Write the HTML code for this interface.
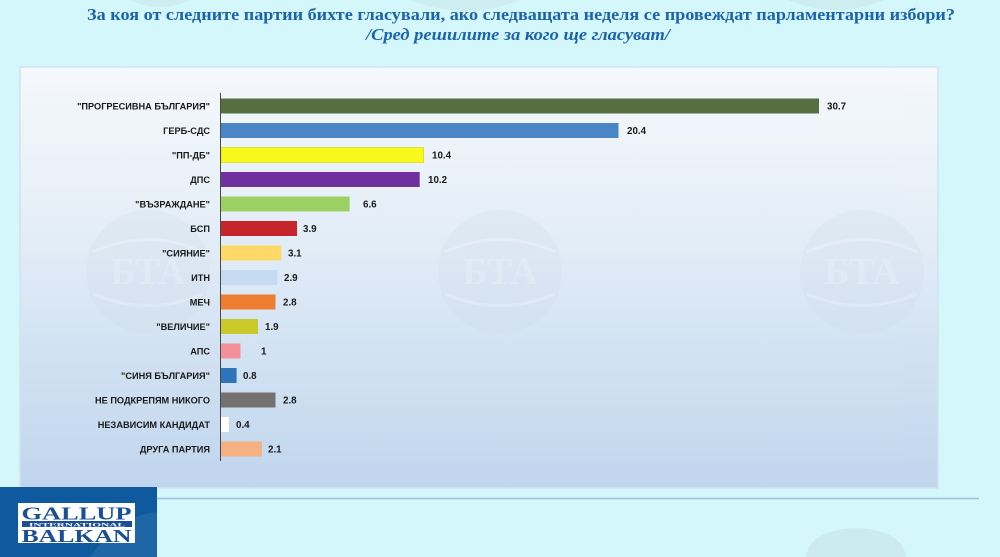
<!DOCTYPE html>
<html>
<head>
<meta charset="utf-8">
<style>
  html,body{margin:0;padding:0;background:#d3f7fb;width:1000px;height:557px;overflow:hidden;}
  svg{display:block;overflow:hidden;}
</style>
</head>
<body>
<svg width="1000" height="557" viewBox="0 0 1000 557" xmlns="http://www.w3.org/2000/svg">
  <defs>
    <linearGradient id="panel" x1="0" y1="0" x2="0" y2="1">
      <stop offset="0" stop-color="#f5f8fc"/>
      <stop offset="0.35" stop-color="#e6eff8"/>
      <stop offset="1" stop-color="#bfd5ed"/>
    </linearGradient>
    <linearGradient id="plot" x1="0" y1="0" x2="0" y2="1">
      <stop offset="0" stop-color="#f3f7fb"/>
      <stop offset="0.35" stop-color="#e4eef8"/>
      <stop offset="1" stop-color="#c4d9ee"/>
    </linearGradient>
    <clipPath id="frame"><rect x="0" y="0" width="1000" height="557"/></clipPath>
  </defs>

  <g clip-path="url(#frame)">
  <!-- page background -->
  <rect x="0" y="0" width="1000" height="557" fill="#d3f7fb"/>

  <!-- faint watermark shapes at top -->
  <g fill="#c9e6ea" opacity="0.6">
    <path d="M410,0 Q465,22 520,0 Z"/>
    <path d="M788,0 Q836,20 884,0 Z"/>
    <path d="M130,0 Q160,14 190,0 Z"/>
  </g>

  <!-- title -->
  <text x="87" y="20" textLength="868" lengthAdjust="spacingAndGlyphs"
        font-family="'Liberation Serif', 'Noto Serif CJK SC', serif" font-weight="bold" font-size="17"
        fill="#1c63ad">За коя от следните партии бихте  гласували,  ако следващата неделя се провеждат парламентарни избори?</text>
  <text x="366" y="40" textLength="304" lengthAdjust="spacingAndGlyphs"
        font-family="'Liberation Serif', 'Noto Serif CJK SC', serif" font-weight="bold" font-style="italic" font-size="17"
        fill="#1c63ad">/Сред решилите за кого ще гласуват/</text>

  <!-- chart panel -->
  <rect x="20" y="67" width="918" height="421" fill="url(#panel)" stroke="#d3e2ee" stroke-width="1.5"/>
  <rect x="221" y="93" width="682" height="368" fill="url(#plot)" opacity="0.8"/>

  <!-- BTA watermarks in panel -->
  <g opacity="0.25">
    <g transform="translate(148,272)">
      <circle r="62" fill="#d0dce8"/>
      <path d="M-55,-20 Q0,-45 55,-20" fill="none" stroke="#eef3f8" stroke-width="3"/>
      <path d="M-55,22 Q0,45 55,22" fill="none" stroke="#eef3f8" stroke-width="3"/>
      <text x="0" y="12" text-anchor="middle" font-family="'Liberation Serif', serif" font-weight="bold" font-size="38" fill="#e8eef5">БТА</text>
    </g>
    <g transform="translate(500,272)">
      <circle r="62" fill="#d0dce8"/>
      <path d="M-55,-20 Q0,-45 55,-20" fill="none" stroke="#eef3f8" stroke-width="3"/>
      <path d="M-55,22 Q0,45 55,22" fill="none" stroke="#eef3f8" stroke-width="3"/>
      <text x="0" y="12" text-anchor="middle" font-family="'Liberation Serif', serif" font-weight="bold" font-size="38" fill="#e8eef5">БТА</text>
    </g>
    <g transform="translate(862,272)">
      <circle r="62" fill="#d0dce8"/>
      <path d="M-55,-20 Q0,-45 55,-20" fill="none" stroke="#eef3f8" stroke-width="3"/>
      <path d="M-55,22 Q0,45 55,22" fill="none" stroke="#eef3f8" stroke-width="3"/>
      <text x="0" y="12" text-anchor="middle" font-family="'Liberation Serif', serif" font-weight="bold" font-size="38" fill="#e8eef5">БТА</text>
    </g>
  </g>

  <!-- bars -->
  <g>
    <rect x="221" y="98.5"  width="598" height="15" fill="#566f41"/>
    <rect x="221" y="123"   width="397.5" height="15" fill="#4a86c5"/>
    <rect x="221" y="147.5" width="202.6" height="15" fill="#f8f81a" stroke="#c8c800" stroke-width="0.5"/>
    <rect x="221" y="172"   width="198.7" height="15" fill="#7030a0"/>
    <rect x="221" y="196.5" width="128.6" height="15" fill="#9bd063"/>
    <rect x="221" y="221"   width="76" height="15" fill="#c4262b"/>
    <rect x="221" y="245.5" width="60.4" height="15" fill="#ffd966"/>
    <rect x="221" y="270"   width="56.5" height="15" fill="#c6dbf1"/>
    <rect x="221" y="294.5" width="54.5" height="15" fill="#ed7d31"/>
    <rect x="221" y="319"   width="37" height="15" fill="#c9c92c"/>
    <rect x="221" y="343.5" width="19.5" height="15" fill="#f4909a"/>
    <rect x="221" y="368"   width="15.6" height="15" fill="#2e74b8"/>
    <rect x="221" y="392.5" width="54.5" height="15" fill="#767171"/>
    <rect x="221" y="417"   width="7.8" height="15" fill="#ffffff"/>
    <rect x="221" y="441.5" width="40.9" height="15" fill="#f5b183"/>
  </g>

  <!-- axis -->
  <line x1="220.5" y1="93" x2="220.5" y2="461" stroke="#4a4a4a" stroke-width="1"/>

  <!-- category labels -->
  <g font-family="'Liberation Sans', 'Noto Sans CJK SC', sans-serif" font-weight="bold" font-size="9.2" fill="#1a1a1a" text-anchor="end">
    <text x="210" y="109.3">"ПРОГРЕСИВНА БЪЛГАРИЯ"</text>
    <text x="210" y="133.8">ГЕРБ-СДС</text>
    <text x="210" y="158.3">"ПП-ДБ"</text>
    <text x="210" y="182.8">ДПС</text>
    <text x="210" y="207.3">"ВЪЗРАЖДАНЕ"</text>
    <text x="210" y="231.8">БСП</text>
    <text x="210" y="256.3">"СИЯНИЕ"</text>
    <text x="210" y="280.8">ИТН</text>
    <text x="210" y="305.3">МЕЧ</text>
    <text x="210" y="329.8">"ВЕЛИЧИЕ"</text>
    <text x="210" y="354.3">АПС</text>
    <text x="210" y="378.8">"СИНЯ БЪЛГАРИЯ"</text>
    <text x="210" y="403.3">НЕ ПОДКРЕПЯМ НИКОГО</text>
    <text x="210" y="427.8">НЕЗАВИСИМ КАНДИДАТ</text>
    <text x="210" y="452.3">ДРУГА ПАРТИЯ</text>
  </g>

  <!-- value labels -->
  <g font-family="'Liberation Sans', sans-serif" font-weight="bold" font-size="9.8" fill="#1a1a1a">
    <text x="827" y="109.5">30.7</text>
    <text x="627" y="134">20.4</text>
    <text x="432" y="158.5">10.4</text>
    <text x="428" y="183">10.2</text>
    <text x="363" y="207.5">6.6</text>
    <text x="303" y="232">3.9</text>
    <text x="288" y="256.5">3.1</text>
    <text x="284" y="281">2.9</text>
    <text x="283" y="305.5">2.8</text>
    <text x="265" y="330">1.9</text>
    <text x="261" y="354.5">1</text>
    <text x="243" y="379">0.8</text>
    <text x="283" y="403.5">2.8</text>
    <text x="236" y="428">0.4</text>
    <text x="268" y="452.5">2.1</text>
  </g>

  <!-- horizontal separator line -->
  <line x1="157" y1="498.5" x2="979" y2="498.5" stroke="#9dc2df" stroke-width="1.5"/>

  <!-- faint bottom watermark (kept inside frame) -->
  <path d="M806,557 Q810,530 856,528 Q902,530 906,557 Z" fill="#c3e0e6" opacity="0.5"/>

  <!-- Gallup logo block -->
  <rect x="0" y="487" width="157" height="70" fill="#0f5a9f"/>
  <path d="M90,557 Q120,515 157,512 L157,557 Z" fill="#2f72ae" opacity="0.5"/>
  <rect x="18" y="503" width="117" height="40" fill="#ffffff"/>
  <text x="76.5" y="519.5" text-anchor="middle" textLength="110" lengthAdjust="spacingAndGlyphs"
        font-family="'Liberation Serif', serif" font-weight="bold" font-size="18" fill="#1b4f95">GALLUP</text>
  <rect x="22" y="521" width="110" height="6" fill="#1b4f95"/>
  <text x="77" y="526.3" text-anchor="middle" textLength="96" lengthAdjust="spacingAndGlyphs"
        font-family="'Liberation Serif', serif" font-weight="bold" font-size="5.5" fill="#ffffff">INTERNATIONAL</text>
  <text x="76.5" y="542" text-anchor="middle" textLength="110" lengthAdjust="spacingAndGlyphs"
        font-family="'Liberation Serif', serif" font-weight="bold" font-size="18" fill="#1b4f95">BALKAN</text>
  </g>
</svg>
</body>
</html>
